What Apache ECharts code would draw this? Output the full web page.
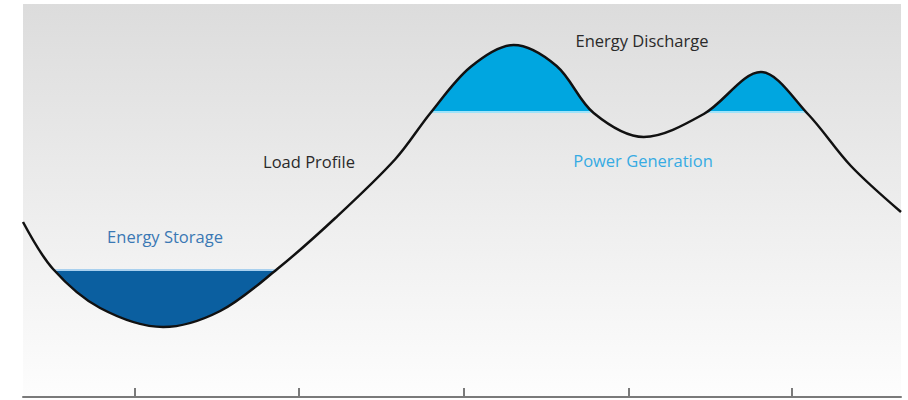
<!DOCTYPE html>
<html>
<head>
<meta charset="utf-8">
<script src="https://cdn.jsdelivr.net/npm/echarts@6/dist/echarts.min.js"></script>
<style>
html,body{margin:0;padding:0;background:#ffffff;}
#chart{width:908px;height:400px;}
</style>
</head>
<body>
<div id="chart"></div>
<script>
// Time positions (arbitrary units along the day) and load profile values
var timePoints = [0, 30, 77, 140, 197, 254, 312, 372, 407, 447, 490, 533, 570, 620, 680, 737, 784, 827, 877];
var loadProfile = [175, 128, 89, 70, 86, 128, 179, 238, 284, 330, 352, 331, 284, 260, 283, 325, 283, 231, 185];
var storageLevel = 128;      // level below which load is served from storage
var generationLevel = 284;   // power generation capacity level
var tickValues = [112, 275, 440, 605, 768];
var labels = ['Energy Discharge', 'Load Profile', 'Power Generation', 'Energy Storage'];

var DARK = '#0b5fa0';
var LIGHT = '#00a6e0';
var SMOOTH = 0.33;
var seriesData = timePoints.map(function (t, i) { return [t, loadProfile[i]]; });

var chart = echarts.init(document.getElementById('chart'), null, {renderer: 'svg'});
chart.setOption({
  animation: false,
  backgroundColor: '#ffffff',
  grid: {
    left: 23, right: 7, top: 4, bottom: 3,
    show: true, borderWidth: 0,
    backgroundColor: {
      type: 'linear', x: 0, y: 0, x2: 0, y2: 1,
      colorStops: [
        {offset: 0, color: '#dcdcdc'},
        {offset: 0.45, color: '#ebebeb'},
        {offset: 1, color: '#fdfdfd'}
      ]
    }
  },
  xAxis: {
    type: 'value', min: 0, max: 877,
    splitLine: {show: false},
    axisLine: {show: true, lineStyle: {color: '#7a7a7a', width: 2}},
    axisTick: {show: true, inside: true, length: 9, customValues: tickValues, lineStyle: {color: '#7a7a7a', width: 2}},
    axisLabel: {show: false}
  },
  yAxis: {
    type: 'value', min: 0, max: 393, show: false,
    splitLine: {show: false}
  },
  visualMap: [
    {
      type: 'piecewise', show: false, seriesIndex: 1, dimension: 1,
      pieces: [
        {lt: storageLevel - 1.5, color: DARK},
        {gte: storageLevel - 1.5, lt: storageLevel, color: '#a9d0ee'},
        {gte: storageLevel, color: 'rgba(0,0,0,0)'}
      ]
    },
    {
      type: 'piecewise', show: false, seriesIndex: 2, dimension: 1,
      pieces: [
        {lt: generationLevel, color: 'rgba(0,0,0,0)'},
        {gte: generationLevel, lt: generationLevel + 1.5, color: '#9fe3fa'},
        {gte: generationLevel + 1.5, color: LIGHT}
      ]
    }
  ],
  series: [
    {
      name: 'Load Profile', type: 'line', data: seriesData, smooth: SMOOTH,
      showSymbol: false, z: 5,
      lineStyle: {color: '#111111', width: 2.5}
    },
    {
      name: 'Energy Storage', type: 'line', data: seriesData, smooth: SMOOTH,
      showSymbol: false, z: 2,
      lineStyle: {width: 0, opacity: 0},
      areaStyle: {origin: 'end', opacity: 1}
    },
    {
      name: 'Energy Discharge', type: 'line', data: seriesData, smooth: SMOOTH,
      showSymbol: false, z: 2,
      lineStyle: {width: 0, opacity: 0},
      areaStyle: {origin: 'start', opacity: 1}
    }
  ],
  graphic: [
    {type: 'text', x: 642, y: 40, style: {text: labels[0], fill: '#2a2a2a', font: '16.5px "Open Sans"', align: 'center', verticalAlign: 'middle'}},
    {type: 'text', x: 309, y: 161, style: {text: labels[1], fill: '#2a2a2a', font: '16.5px "Open Sans"', align: 'center', verticalAlign: 'middle'}},
    {type: 'text', x: 643, y: 160, style: {text: labels[2], fill: '#36abe3', font: '16.5px "Open Sans"', align: 'center', verticalAlign: 'middle'}},
    {type: 'text', x: 165, y: 236, style: {text: labels[3], fill: '#3a78b4', font: '16.5px "Open Sans"', align: 'center', verticalAlign: 'middle'}}
  ]
});
</script>
</body>
</html>
